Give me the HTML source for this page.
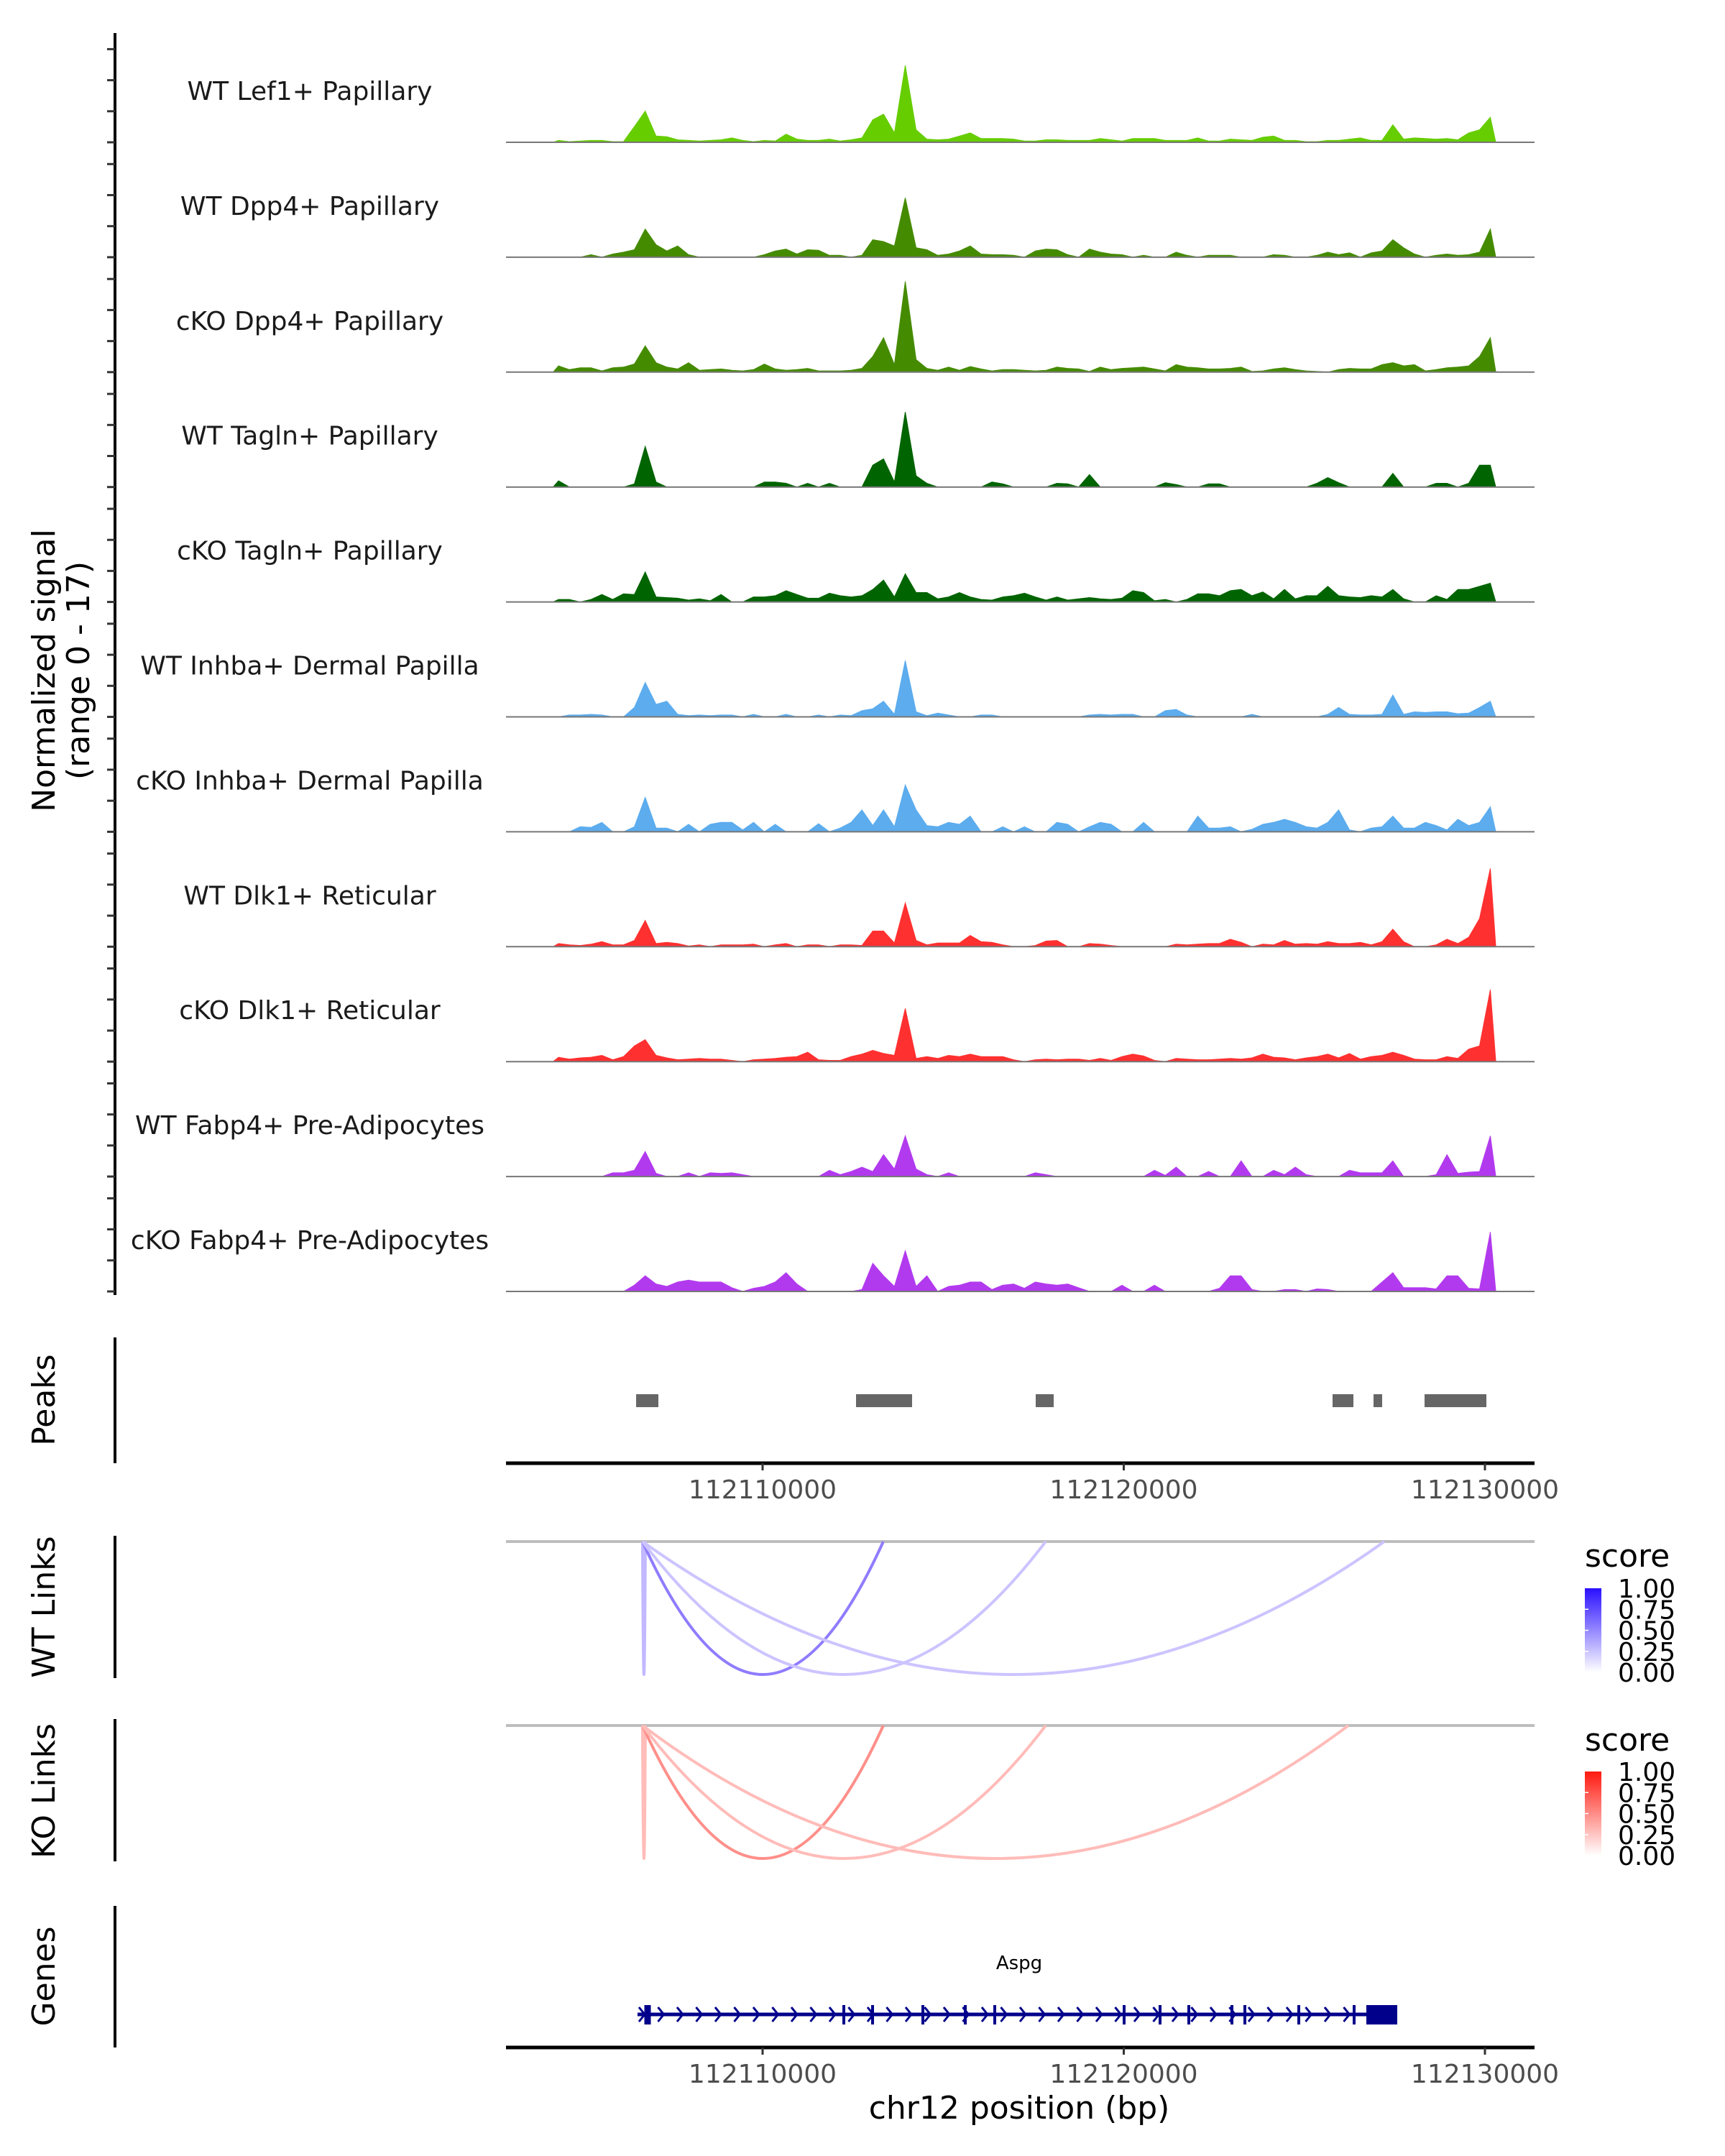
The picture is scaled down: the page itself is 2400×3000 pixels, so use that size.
<!DOCTYPE html>
<html><head><meta charset="utf-8"><style>
html,body{margin:0;padding:0;background:#fff}
svg{display:block;font-family:"DejaVu Sans","Liberation Sans",sans-serif}
</style></head><body>
<svg id="fig" width="2400" height="3000" viewBox="0 0 2400 3000" xmlns="http://www.w3.org/2000/svg">
<defs>
<linearGradient id="gBlue" x1="0" y1="1" x2="0" y2="0"><stop offset="0" stop-color="#ffffff"/><stop offset="1" stop-color="#2a10ff"/></linearGradient>
<linearGradient id="gRed" x1="0" y1="1" x2="0" y2="0"><stop offset="0" stop-color="#ffffff"/><stop offset="1" stop-color="#ff1a10"/></linearGradient>
</defs>
<g id="tracks"></g>
<g id="yaxis">
<line x1="160" y1="46" x2="160" y2="1802" stroke="#000" stroke-width="4"/>
<text transform="translate(76,933) rotate(-90)" text-anchor="middle" font-size="44" fill="#000">Normalized signal</text>
<text transform="translate(124,933) rotate(-90)" text-anchor="middle" font-size="44" fill="#000">(range 0 - 17)</text>
</g>
<g>
<line x1="160" y1="1861" x2="160" y2="2036" stroke="#000" stroke-width="4"/>
<text transform="translate(76,1948) rotate(-90)" text-anchor="middle" font-size="44">Peaks</text>
<g id="peaks"></g>
<line x1="704" y1="2036" x2="2135" y2="2036" stroke="#000" stroke-width="5"/>
<g id="xaxis1"></g>
</g>
<g>
<line x1="160" y1="2137" x2="160" y2="2335" stroke="#000" stroke-width="4"/>
<text transform="translate(76,2236) rotate(-90)" text-anchor="middle" font-size="44">WT Links</text>
<line x1="704" y1="2145" x2="2135" y2="2145" stroke="#bebebe" stroke-width="4"/>
<g id="wtlinks"></g>
<text x="2205" y="2180" font-size="44">score</text>
<rect x="2205" y="2210" width="23" height="117" fill="url(#gBlue)"/>
<g id="wtleg"></g>
</g>
<g>
<line x1="160" y1="2392" x2="160" y2="2590" stroke="#000" stroke-width="4"/>
<text transform="translate(76,2492) rotate(-90)" text-anchor="middle" font-size="44">KO Links</text>
<line x1="704" y1="2401" x2="2135" y2="2401" stroke="#bebebe" stroke-width="4"/>
<g id="kolinks"></g>
<text x="2205" y="2436" font-size="44">score</text>
<rect x="2205" y="2465" width="23" height="117" fill="url(#gRed)"/>
<g id="koleg"></g>
</g>
<g>
<line x1="160" y1="2652" x2="160" y2="2849" stroke="#000" stroke-width="4"/>
<text transform="translate(76,2750) rotate(-90)" text-anchor="middle" font-size="44">Genes</text>
<text x="1418" y="2740" text-anchor="middle" font-size="26">Aspg</text>
<g id="gene"></g>
<line x1="704" y1="2849" x2="2135" y2="2849" stroke="#000" stroke-width="5"/>
<g id="xaxis2"></g>
<text x="1418" y="2948" text-anchor="middle" font-size="44">chr12 position (bp)</text>
</g>
</svg>
<script>
const NS="http://www.w3.org/2000/svg";
const binStart=112104200, binSize=300;
const trackNames=["WT Lef1+ Papillary","WT Dpp4+ Papillary","cKO Dpp4+ Papillary","WT Tagln+ Papillary","cKO Tagln+ Papillary","WT Inhba+ Dermal Papilla","cKO Inhba+ Dermal Papilla","WT Dlk1+ Reticular","cKO Dlk1+ Reticular","WT Fabp4+ Pre-Adipocytes","cKO Fabp4+ Pre-Adipocytes"];
const trackColors=["#66CD00","#458B00","#458B00","#006400","#006400","#5CACEE","#5CACEE","#FF3030","#FF3030","#B23AEE","#B23AEE"];
const sigWTLef1=[0.3,0.1,0.2,0.3,0.3,0.1,0.1,2.5,5.0,1.0,0.9,0.4,0.3,0.2,0.3,0.4,0.7,0.3,0.1,0.3,0.2,1.3,0.5,0.3,0.3,0.5,0.2,0.4,0.7,3.6,4.5,1.5,12.3,2.0,0.5,0.4,0.5,1.0,1.5,0.6,0.6,0.6,0.5,0.2,0.2,0.4,0.4,0.3,0.3,0.3,0.6,0.4,0.2,0.6,0.6,0.6,0.3,0.3,0.3,0.7,0.2,0.2,0.5,0.4,0.3,0.8,1.0,0.3,0.3,0.1,0.1,0.3,0.3,0.5,0.7,0.3,0.3,2.8,0.5,0.7,0.6,0.5,0.6,0.4,1.5,2.0,4.0];
const sigWTDpp4=[0,0,0,0.4,0,0.5,0.8,1.2,4.5,2.0,1.0,1.8,0.4,0,0,0,0,0,0,0.4,1.0,1.3,0.5,1.2,1.1,0.3,0.3,0,0.3,2.8,2.5,1.8,9.5,1.5,1.2,0.3,0.5,1.0,1.8,0.5,0.4,0.4,0.3,0,1.0,1.3,1.2,0.4,0,1.3,0.8,0.5,0.4,0,0.3,0,0,0.8,0.3,0,0.3,0.3,0.3,0,0,0,0.4,0.3,0,0,0.3,0.8,0.4,0.7,0,0.7,1.0,2.8,1.5,0.5,0,0.3,0.5,0.3,0.4,0.8,4.5];
const sigKODpp4=[1.0,0.4,0.7,0.7,0.2,0.7,0.8,1.3,4.2,1.5,0.8,0.5,1.5,0.3,0.4,0.5,0.3,0.2,0.4,1.3,0.5,0.3,0.4,0.6,0.2,0.2,0.2,0.3,0.6,2.5,5.5,1.2,14.5,2.0,0.6,0.3,0.8,0.3,0.9,0.5,0.2,0.4,0.4,0.3,0.2,0.3,0.8,0.6,0.5,0.1,0.8,0.4,0.6,0.7,0.8,0.5,0.2,1.2,0.8,0.7,0.5,0.5,0.6,0.8,0.1,0.2,0.5,0.7,0.4,0.2,0.1,0,0.4,0.6,0.5,0.5,1.2,1.5,1.0,1.2,0.2,0.4,0.7,0.8,1.0,2.5,5.5];
const sigWTTagln=[1.0,0,0,0,0,0,0,0.5,6.5,0.8,0,0,0,0,0,0,0,0,0,0.8,0.8,0.6,0,0.6,0,0.6,0,0,0,3.5,4.5,0.8,12.0,1.8,0.6,0,0,0,0,0,0.8,0.5,0,0,0,0,0.6,0.5,0,2.0,0,0,0,0,0,0,0.7,0.4,0,0,0.5,0.5,0,0,0,0,0,0,0,0,0.6,1.5,0.7,0,0,0,0,2.2,0,0,0,0.6,0.6,0,0.6,3.5,3.5];
const sigKOTagln=[0.4,0.4,0,0.4,1.2,0.4,1.3,1.2,4.8,0.8,0.7,0.6,0.3,0.5,0.2,1.2,0,0,0.8,0.8,1.0,1.8,1.2,0.6,0.6,1.4,1.0,0.8,1.0,2.0,3.5,0.8,4.5,1.5,1.5,0.5,0.8,1.5,0.8,0.4,0.3,0.8,1.0,1.4,0.8,0.3,0.8,0.3,0.5,0.7,0.5,0.4,0.6,1.8,1.5,0.2,0.4,0,0.4,1.3,1.3,1.0,1.8,2.0,1.0,1.6,0.5,2.0,0.5,1.0,1.0,2.5,1.0,0.8,0.7,1.0,0.8,2.0,0.5,0,0,1.0,0.4,2.0,2.0,2.5,3.0];
const sigWTInhba=[0,0.3,0.3,0.4,0.3,0,0,1.5,5.5,2.0,2.5,0.4,0.2,0.3,0.2,0.3,0.3,0,0.4,0,0,0.4,0,0,0.3,0,0.3,0.2,1.0,1.3,2.5,0.4,9.0,0.8,0.2,0.6,0.3,0,0,0.3,0.3,0,0,0,0,0,0,0,0,0.3,0.4,0.3,0.4,0.4,0,0,1.0,1.2,0.3,0,0,0,0,0,0.4,0,0,0,0,0,0,0.4,1.5,0.4,0.3,0.3,0.4,3.5,0.4,0.8,0.7,0.8,0.8,0.5,0.6,1.5,2.5];
const sigKOInhba=[0,0,0.8,0.7,1.5,0,0,0.8,5.5,0.6,0.6,0,1.2,0,1.2,1.5,1.5,0.3,1.5,0,1.2,0,0,0,1.3,0,0.6,1.5,3.5,1.0,3.5,0.8,7.5,3.5,1.0,0.8,1.5,1.2,2.5,0,0,0.8,0,0.8,0,0,1.5,1.2,0,0.8,1.5,1.2,0,0,1.5,0,0,0,0,2.5,0.6,0.6,0.8,0,0.4,1.2,1.5,2.0,1.5,0.8,0.6,1.5,3.5,0.3,0,0.6,0.8,2.5,0.6,0.6,1.5,1.0,0.3,2.0,1.0,1.5,4.0];
const sigWTDlk1=[0.5,0.3,0.2,0.4,0.8,0.3,0.3,1.0,4.2,0.5,0.7,0.5,0.1,0.3,0,0.3,0.3,0.3,0.4,0,0.3,0.5,0,0.3,0.3,0,0.3,0.3,0.2,2.5,2.5,0.6,7.0,1.0,0.3,0.6,0.6,0.6,1.8,0.8,0.7,0.3,0,0,0.2,0.9,1.0,0,0,0.5,0.4,0.2,0,0,0,0,0,0.4,0.3,0.4,0.5,0.5,1.2,0.7,0,0.4,0.3,1.0,0.4,0.5,0.4,0.8,0.5,0.5,0.7,0.3,0.8,2.8,0.8,0,0,0.3,1.2,0.5,1.5,4.5,12.5];
const sigKODlk1=[0.7,0.4,0.6,0.7,1.0,0.3,0.8,2.5,3.5,1.0,0.6,0.3,0.4,0.5,0.4,0.4,0.2,0,0.3,0.4,0.5,0.7,0.8,1.5,0.3,0.2,0.2,0.8,1.2,1.8,1.3,1.0,8.5,0.5,0.8,0.5,1.0,0.8,1.2,0.8,0.8,0.8,0.3,0,0.3,0.4,0.3,0.4,0.4,0.2,0.5,0.2,0.8,1.2,0.9,0.2,0,0.5,0.4,0.3,0.3,0.4,0.5,0.4,0.6,1.2,0.7,0.6,0.3,0.6,0.8,1.2,0.6,1.3,0.4,0.8,1.0,1.5,1.0,0.4,0.3,0.3,0.8,0.5,2.0,2.5,11.5];
const sigWTFabp4=[0,0,0,0,0,0.6,0.6,1.0,4.0,0.5,0,0,0.6,0,0.6,0.5,0.6,0.3,0,0,0,0,0,0,0,1.0,0.3,0.8,1.5,0.8,3.5,1.2,6.5,1.2,0.3,0,0.6,0,0,0,0,0,0,0,0.6,0.3,0,0,0,0,0,0,0,0,0,1.0,0.2,1.5,0,0,0.8,0,0,2.5,0,0,1.0,0.3,1.5,0.3,0,0,0,1.0,0.6,0.6,0.6,2.5,0,0,0,0.3,3.5,0.5,0.7,0.8,6.5];
const sigKOFabp4=[0,0,0,0,0,0,0,1.0,2.5,1.2,0.8,1.5,1.8,1.5,1.5,1.5,0.6,0,0.5,0.8,1.5,3.0,1.2,0,0,0,0,0,0.3,4.5,2.5,0.8,6.5,0.8,2.5,0,0.8,1.0,1.5,1.5,0.3,1.0,1.2,0.5,1.5,1.2,1.0,1.2,0.6,0,0,0,1.0,0,0,1.0,0,0,0,0,0,0.5,2.5,2.5,0.3,0,0,0.3,0.3,0,0.4,0.3,0,0,0,0,1.5,3.0,0.6,0.6,0.6,0.4,2.5,2.5,0.5,0.4,9.5];
const trackSignals=[sigWTLef1,sigWTDpp4,sigKODpp4,sigWTTagln,sigKOTagln,sigWTInhba,sigKOInhba,sigWTDlk1,sigKODlk1,sigWTFabp4,sigKOFabp4];
const peakStarts=[112106498,112112587,112117562,112125781,112126915,112128328];
const peakEnds=[112107114,112114139,112118060,112126358,112127154,112130040];
const xTicks=[112110000,112120000,112130000];
const wtLinkStart=[112106675,112106675,112106675,112106675];
const wtLinkEnd=[112106755,112113342,112117839,112127213];
const wtLinkScore=[0.3,0.55,0.25,0.25];
const koLinkStart=[112106675,112106675,112106675,112106675];
const koLinkEnd=[112106755,112113342,112117839,112126218];
const koLinkScore=[0.3,0.5,0.3,0.3];
const legendTicks=["0.00","0.25","0.50","0.75","1.00"];
const geneStart=112106537, geneEnd=112127572;
const exonPos=[112106816,112112249,112113045,112114438,112115612,112116428,112120010,112121005,112121801,112122995,112123353,112124846,112126378];
const utrStart=112126716, utrEnd=112127572;

function xs(bp){return 1061+(bp-112110000)*0.05025;}
function ys(v,base){return base-v*148/17;}
function mk(tag,parent,attrs){const e=document.createElementNS(NS,tag);for(const k in attrs)e.setAttribute(k,attrs[k]);parent.appendChild(e);return e;}

const tg=document.getElementById("tracks");
const yax=document.getElementById("yaxis");
for(let i=0;i<trackSignals.length;i++){
  const base=198+159.9*i;
  for(let t=0;t<4;t++){
    const tk=mk("line",yax,{x1:149,x2:160,y1:base-43.2*t,y2:base-43.2*t,stroke:"#333",'stroke-width':3});
    
    
  }
}
trackSignals.forEach((arr,i)=>{
  const base=198+159.9*i;
  const g=mk("g",tg,{});
  
  
  let d="M"+xs(binStart).toFixed(1)+","+base;
  arr.forEach((v,j)=>{
    const xc=xs(binStart+binSize*(j+0.5));
    d+=" L"+xc.toFixed(1)+","+ys(v,base).toFixed(1);
  });
  d+=" L"+xs(binStart+binSize*arr.length).toFixed(1)+","+base+" Z";
  const p=mk("path",g,{d:d,fill:trackColors[i],stroke:trackColors[i],'stroke-width':1});
  
  
  const bl=mk("line",g,{x1:704,x2:2135,y1:base,y2:base,stroke:"#777",'stroke-width':2});
  
  
  const t=mk("text",g,{x:431,y:base-59,'text-anchor':'middle','font-size':36,fill:'#1a1a1a'});
  t.textContent=trackNames[i];
  
  
});
const pg=document.getElementById("peaks");
peakStarts.forEach((s,i)=>{
  const r=mk("rect",pg,{x:xs(s),y:1940,width:xs(peakEnds[i])-xs(s),height:18,fill:"#666666"});
  
  
});
function xaxis(id,y){
  const g=document.getElementById(id);
  xTicks.forEach(v=>{
    const x=xs(v);
    const l=mk("line",g,{x1:x,x2:x,y1:y,y2:y+10,stroke:"#333",'stroke-width':3});
    
    
    const t=mk("text",g,{x:x,y:y+49,'text-anchor':'middle','font-size':36,fill:'#4d4d4d'});
    t.textContent=String(v);
    
    
  });
}
xaxis("xaxis1",2036);xaxis("xaxis2",2849);
function lerp(c,t){return "rgb("+c.map(v=>Math.round(255+(v-255)*t)).join(",")+")";}
function links(id,starts,ends,scores,top,depth,col){
  const g=document.getElementById(id);
  starts.forEach((s,i)=>{
    const x1=xs(s),x2=xs(ends[i]),yc=top+depth*2,xm=(x1+x2)/2;
    const p=mk("path",g,{d:`M${x1},${top} Q${xm},${yc} ${x2},${top}`,fill:"none",stroke:lerp(col,scores[i]),'stroke-width':4});
    
    
  });
}
links("wtlinks",wtLinkStart,wtLinkEnd,wtLinkScore,2145,185,[51,17,255]);
links("kolinks",koLinkStart,koLinkEnd,koLinkScore,2401,185,[255,30,20]);
function legend(id,top){
  const g=document.getElementById(id);
  legendTicks.forEach((lab,i)=>{
    const y=top+117-117*i/4;
    if(i>0&&i<4){const l=mk("line",g,{x1:2205,x2:2210,y1:y,y2:y,stroke:"#fff",'stroke-width':1.5});}
    const t=mk("text",g,{x:2251,y:y+13,'font-size':36,fill:'#000'});
    t.textContent=lab;
    
    
  });
}
legend("wtleg",2210);legend("koleg",2465);
const gg=document.getElementById("gene");
const gl=mk("line",gg,{x1:xs(geneStart),x2:xs(geneEnd),y1:2803,y2:2803,stroke:"#00008B",'stroke-width':5});


for(let x=xs(geneStart)+6;x<xs(utrStart)-8;x+=26.5){
  const c=mk("path",gg,{d:`M${x-4},2793 L${x+4},2803 L${x-4},2813`,fill:"none",stroke:"#00008B",'stroke-width':3});
  
  
}
exonPos.forEach((b,i)=>{
  const w=i===0?9:4;
  const r=mk("rect",gg,{x:xs(b)-w/2,y:2790,width:w,height:27,fill:"#00008B"});
  
  
});
const ub=mk("rect",gg,{x:xs(utrStart),y:2790,width:xs(utrEnd)-xs(utrStart),height:27,fill:"#00008B"});


</script>
</body></html>
